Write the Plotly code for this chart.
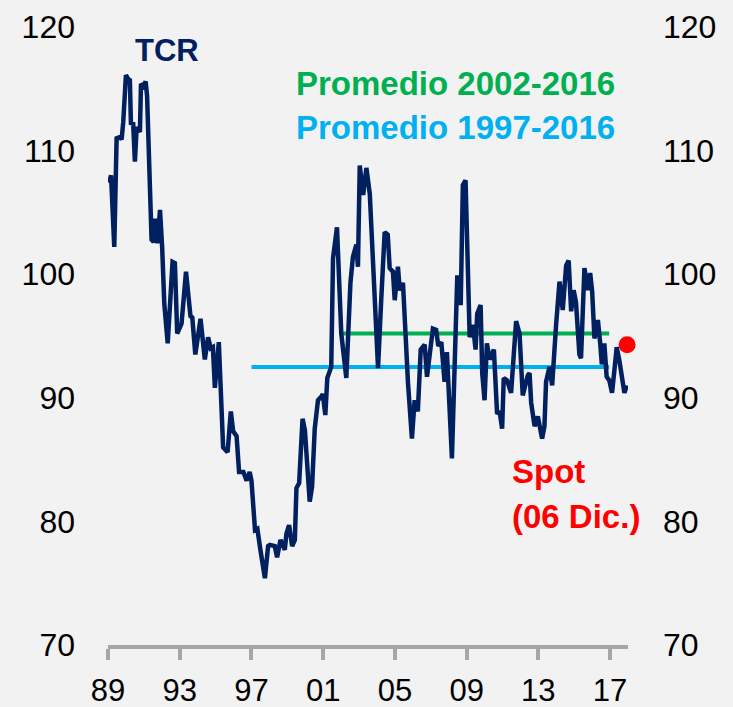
import plotly.graph_objects as go

# TCR series (decimal year, index value)
years = [
    1989.07, 1989.17, 1989.35, 1989.48, 1989.67, 1989.76, 1989.85, 1990.00, 1990.12, 1990.22,
    1990.28, 1990.40, 1990.50, 1990.60, 1990.78, 1990.84, 1990.98, 1991.10, 1991.18, 1991.34,
    1991.43, 1991.55, 1991.65, 1991.76, 1991.90, 1992.02, 1992.14, 1992.33, 1992.50, 1992.60,
    1992.73, 1992.86, 1993.10, 1993.35, 1993.60, 1993.70, 1993.87, 1994.16, 1994.40, 1994.58,
    1994.73, 1994.85, 1994.96, 1995.18, 1995.42, 1995.67, 1995.85, 1995.98, 1996.17, 1996.31,
    1996.55, 1996.73, 1996.90, 1997.00, 1997.20, 1997.33, 1997.50, 1997.75, 1997.93, 1998.03,
    1998.30, 1998.43, 1998.62, 1998.86, 1998.95, 1999.10, 1999.27, 1999.42, 1999.51, 1999.66,
    1999.85, 1999.98, 2000.25, 2000.38, 2000.53, 2000.71, 2000.90, 2000.98, 2001.12, 2001.23,
    2001.45, 2001.55, 2001.77, 2002.01, 2002.29, 2002.52, 2002.66, 2002.85, 2002.94, 2003.04,
    2003.23, 2003.41, 2003.60, 2003.78, 2004.06, 2004.24, 2004.43, 2004.60, 2004.71, 2004.89,
    2004.99, 2005.17, 2005.27, 2005.45, 2005.73, 2005.95, 2006.10, 2006.28, 2006.44, 2006.66,
    2006.79, 2007.12, 2007.30, 2007.42, 2007.59, 2007.77, 2007.90, 2008.18, 2008.48, 2008.67,
    2008.79, 2008.94, 2009.17, 2009.35, 2009.50, 2009.59, 2009.78, 2009.87, 2010.00, 2010.13,
    2010.28, 2010.52, 2010.70, 2010.84, 2010.98, 2011.07, 2011.26, 2011.48, 2011.76, 2011.95,
    2012.13, 2012.41, 2012.51, 2012.60, 2012.79, 2012.97, 2013.21, 2013.34, 2013.43, 2013.62,
    2013.77, 2013.99, 2014.18, 2014.36, 2014.55, 2014.69, 2014.83, 2014.97, 2015.10, 2015.29,
    2015.38, 2015.57, 2015.76, 2015.89, 2016.00, 2016.13, 2016.32, 2016.45, 2016.54, 2016.68,
    2016.81, 2016.96, 2017.11, 2017.24, 2017.37, 2017.52, 2017.65, 2017.80, 2017.93,
]
tcr = [
    107.4, 108.0, 102.2, 111.0, 111.1, 110.9, 112.3, 116.1, 115.8, 115.7,
    112.1, 112.3, 109.1, 111.9, 111.5, 115.4, 115.2, 115.6, 114.4, 107.9,
    102.8, 102.6, 104.5, 102.5, 105.2, 102.2, 97.6, 94.4, 98.5, 101.0,
    100.9, 95.2, 96.0, 100.2, 96.6, 96.5, 93.5, 96.4, 93.1, 94.9,
    94.0, 94.1, 90.8, 94.5, 86.0, 85.6, 88.9, 87.3, 86.9, 84.0,
    84.0, 83.3, 84.0, 83.3, 79.3, 79.4, 77.7, 75.4, 78.0, 78.1,
    78.0, 77.1, 78.5, 77.7, 79.0, 79.7, 78.0, 78.5, 82.7, 83.1,
    88.3, 87.4, 81.6, 82.8, 87.5, 89.8, 90.1, 90.3, 88.6, 91.6,
    92.5, 101.3, 103.8, 95.2, 91.6, 99.3, 101.4, 102.4, 100.6, 108.8,
    106.4, 108.6, 106.5, 100.6, 92.4, 98.0, 103.4, 103.2, 100.5, 100.2,
    97.9, 100.6, 98.7, 99.3, 91.2, 86.7, 89.8, 88.9, 93.9, 94.3,
    91.7, 95.6, 95.5, 94.2, 94.5, 91.3, 93.7, 85.1, 99.9, 97.5,
    107.2, 107.6, 94.9, 95.9, 93.9, 96.8, 97.5, 92.0, 89.8, 94.4,
    93.1, 93.9, 88.7, 88.9, 87.5, 91.6, 91.4, 90.4, 96.2, 95.2,
    90.2, 91.8, 92.0, 89.6, 87.7, 88.5, 86.7, 87.7, 91.3, 92.5,
    91.0, 95.9, 99.4, 97.1, 100.7, 101.1, 97.0, 98.7, 97.7, 93.5,
    93.2, 100.5, 98.7, 100.1, 98.6, 94.8, 96.3, 94.4, 92.7, 94.4,
    91.7, 91.4, 90.4, 92.2, 94.1, 93.0, 91.8, 90.4, 91.0,
]

# Averages
avg_2002_2016 = 95.2
avg_1997_2016 = 92.5
avg_2002_span = [2002.0, 2016.95]
avg_1997_span = [1997.0, 2016.95]

# Spot (06 Dic.)
spot_x = [2017.95]
spot_y = [94.3]

tick_years = [1989, 1993, 1997, 2001, 2005, 2009, 2013, 2017]
tick_text = ["89", "93", "97", "01", "05", "09", "13", "17"]
y_ticks = [70, 80, 90, 100, 110, 120]

NAVY = "#002060"
GREEN = "#00B050"
LBLUE = "#00B0F0"
RED = "#FF0000"
GREY = "#A6A6A6"
BG = "#F2F2F2"
FONT = "Liberation Sans"

fig = go.Figure()
fig.add_trace(go.Scatter(x=avg_1997_span, y=[avg_1997_2016] * 2, mode="lines",
                         line=dict(color=LBLUE, width=4), hoverinfo="skip"))
fig.add_trace(go.Scatter(x=avg_2002_span, y=[avg_2002_2016] * 2, mode="lines",
                         line=dict(color=GREEN, width=4), hoverinfo="skip"))
fig.add_trace(go.Scatter(x=years, y=tcr, mode="lines",
                         line=dict(color=NAVY, width=4.5)))
fig.add_trace(go.Scatter(x=spot_x, y=spot_y, mode="markers", yaxis="y2",
                         cliponaxis=False, marker=dict(color=RED, size=17)))

annot_font = dict(family=FONT, size=33)
fig.update_layout(
    width=733, height=707, autosize=False,
    margin=dict(l=108, r=105, t=27, b=62),
    paper_bgcolor=BG, plot_bgcolor=BG,
    showlegend=False,
    font=dict(family=FONT, size=32, color="black"),
    xaxis=dict(range=[1989, 2018], tickvals=tick_years, ticktext=tick_text,
               automargin=False,
               showgrid=False, zeroline=False, showline=True, linecolor=GREY,
               linewidth=4, ticks="outside", ticklen=11, tickwidth=4, tickcolor=GREY,
               ticklabelstandoff=4, tickfont=dict(size=31)),
    yaxis=dict(range=[70, 120], tickvals=y_ticks, showgrid=False, zeroline=False,
               automargin=False,
               showline=False, ticks="", ticklabelstandoff=32, tickfont=dict(size=32)),
    yaxis2=dict(range=[70, 120], tickvals=y_ticks, overlaying="y", side="right",
                automargin=False,
                showgrid=False, zeroline=False, showline=False, ticks="",
                ticklabelstandoff=34, tickfont=dict(size=32)),
    annotations=[
        dict(x=1992.29, y=118.1, xref="x", yref="y", text="<b>TCR</b>", showarrow=False,
             xanchor="center", yanchor="middle", font=dict(family=FONT, size=31, color=NAVY)),
        dict(x=1999.4, y=115.4, xref="x", yref="y", text="<b>Promedio 2002-2016</b>",
             showarrow=False, xanchor="left", yanchor="middle",
             font=dict(annot_font, color=GREEN)),
        dict(x=1999.4, y=111.9, xref="x", yref="y", text="<b>Promedio 1997-2016</b>",
             showarrow=False, xanchor="left", yanchor="middle",
             font=dict(annot_font, color=LBLUE)),
        dict(x=2011.4, y=84.0, xref="x", yref="y", text="<b>Spot</b>",
             showarrow=False, xanchor="left", yanchor="middle",
             font=dict(annot_font, color=RED)),
        dict(x=2011.4, y=80.4, xref="x", yref="y", text="<b>(06 Dic.)</b>",
             showarrow=False, xanchor="left", yanchor="middle",
             font=dict(annot_font, color=RED)),
    ],
)

fig.write_html(
    "out.html",
    config={"displayModeBar": False},
    post_script="document.body.style.margin='0';document.body.style.background='#F2F2F2';",
)
